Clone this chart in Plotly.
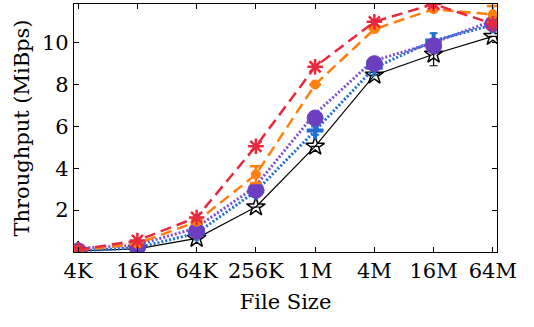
import plotly.graph_objects as go

# File sizes on the x axis (log-spaced categories)
sizes = ["4K", "16K", "64K", "256K", "1M", "4M", "16M", "64M"]

# Throughput in MiBps for each configuration
red_vals = [0.10, 0.55, 1.65, 5.05, 8.85, 11.0, 11.85, 10.9]
orange_vals = [0.08, 0.40, 1.45, 3.70, 8.00, 10.65, 11.6, 11.35]
blue_vals = [0.05, 0.20, 0.90, 2.90, 5.80, 8.80, 10.10, 10.85]
purple_vals = [0.05, 0.20, 1.00, 2.95, 6.40, 9.00, 9.85, 10.90]
black_vals = [0.05, 0.15, 0.65, 2.15, 5.05, 8.45, 9.45, 10.30]

# Error bar half-widths
orange_err = [0, 0, 0.1, 0.4, 0, 0, 0, 0.4]
blue_err = [0, 0, 0, 0, 0.2, 0, 0.35, 0]
black_err = [0, 0, 0, 0, 0, 0, 0.55, 0]

x = list(range(len(sizes)))
serif = "DejaVu Serif, Liberation Serif, serif"

fig = go.Figure()

fig.add_trace(go.Scatter(
    x=x, y=black_vals, mode="lines+markers",
    line=dict(color="black", width=1.2),
    marker=dict(symbol="star-open", size=14, color="black", line=dict(width=1.5, color="black")),
    error_y=dict(type="data", array=black_err, color="black", thickness=1.2, width=4),
))
fig.add_trace(go.Scatter(
    x=x, y=blue_vals, mode="lines+markers",
    line=dict(color="#1f6fd1", width=3, dash="2px,2px"),
    marker=dict(symbol="cross-thin-open", size=12, color="#1f6fd1", line=dict(width=4, color="#1f6fd1")),
    error_y=dict(type="data", array=blue_err, color="#1f6fd1", thickness=2, width=4),
))
fig.add_trace(go.Scatter(
    x=[v - 0.03 for v in x], y=[v + 0.12 for v in purple_vals], mode="lines",
    line=dict(color="#7a4fd0", width=3, dash="2px,2px"), hoverinfo="skip",
))
fig.add_trace(go.Scatter(
    x=x, y=purple_vals, mode="markers",
    marker=dict(symbol="circle", size=16, color="#6b3fbf", line=dict(width=1, color="#6b3fbf")),
))
fig.add_trace(go.Scatter(
    x=x, y=orange_vals, mode="lines+markers",
    line=dict(color="#ff7f0e", width=2.5, dash="11px,6px"),
    marker=dict(symbol="circle", size=10, color="#ff7f0e"),
    error_y=dict(type="data", array=orange_err, color="#ff7f0e", thickness=2.5, width=6),
))
fig.add_trace(go.Scatter(
    x=x, y=red_vals, mode="lines+markers",
    line=dict(color="#e8283c", width=2.5, dash="11px,6px"),
    marker=dict(symbol="asterisk-open", size=13, color="#e8283c", line=dict(width=2.5, color="#e8283c")),
))

axis_common = dict(
    showline=True, linecolor="black", linewidth=1.2, mirror="ticks",
    ticks="inside", ticklen=5, tickcolor="black", tickwidth=1,
    showgrid=False, zeroline=False,
    tickfont=dict(family=serif, size=21, color="black"),
)

fig.update_layout(
    width=534, height=327,
    margin=dict(l=74, r=37, t=4, b=75),
    plot_bgcolor="white", paper_bgcolor="white",
    showlegend=False,
    xaxis=dict(
        axis_common, range=[-0.07, 7.07], tickmode="array", tickvals=x, ticktext=sizes,
        title=dict(text="File Size", font=dict(family=serif, size=21, color="black"), standoff=12),
    ),
    yaxis=dict(
        axis_common, range=[0, 11.85], tickvals=[2, 4, 6, 8, 10],
        title=dict(text="Throughput (MiBps)", font=dict(family=serif, size=21, color="black"), standoff=6),
    ),
)

fig.write_html("out.html")
